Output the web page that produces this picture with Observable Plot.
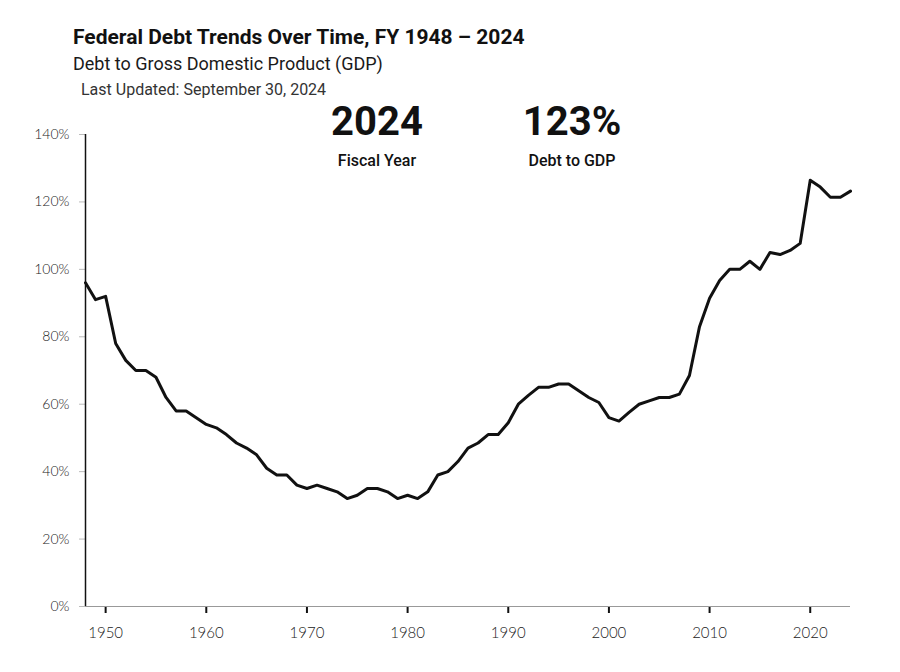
<!DOCTYPE html>
<html><head><meta charset="utf-8">
<script src="https://cdn.jsdelivr.net/npm/d3@7"></script>
<script src="https://cdn.jsdelivr.net/npm/@observablehq/plot@0.6"></script>
<style>
body{margin:0;background:#fff;}
#wrap{position:relative;width:900px;height:672px;overflow:hidden;background:#fff;}
.t{position:absolute;white-space:nowrap;line-height:1;font-family:Roboto,"Open Sans",sans-serif;}
.c{transform:translateX(-50%);}
</style></head><body>
<div id="wrap">
  <div class="t" id="title" style="left:73px;top:27px;font-size:21px;font-weight:700;color:#111;"></div>
  <div class="t" id="subtitle" style="left:73px;top:55px;font-size:18px;font-weight:400;color:#1a1a1a;"></div>
  <div class="t" id="updated" style="left:81px;top:82px;font-size:16px;font-weight:400;color:#333;"></div>
  <div class="t c" id="bigYear" style="left:377px;top:102px;font-size:40px;font-weight:700;color:#111;"></div>
  <div class="t c" id="bigYearLbl" style="left:377px;top:153px;font-size:16px;font-weight:500;color:#111;"></div>
  <div class="t c" id="bigVal" style="left:572px;top:102px;font-size:40px;font-weight:700;color:#111;"></div>
  <div class="t c" id="bigValLbl" style="left:572px;top:153px;font-size:16px;font-weight:500;color:#111;"></div>
  <div id="chart" style="position:absolute;left:0;top:100px;"></div>
</div>
<script>
// ---- data ----
const titleText = "Federal Debt Trends Over Time, FY 1948 – 2024";
const subtitleText = "Debt to Gross Domestic Product (GDP)";
const updatedText = "Last Updated: September 30, 2024";
const yearLabel = "Fiscal Year";
const valueLabel = "Debt to GDP";

const years = [
  1948,1949,1950,1951,1952,1953,1954,1955,1956,1957,1958,1959,
  1960,1961,1962,1963,1964,1965,1966,1967,1968,1969,
  1970,1971,1972,1973,1974,1975,1976,1977,1978,1979,
  1980,1981,1982,1983,1984,1985,1986,1987,1988,1989,
  1990,1991,1992,1993,1994,1995,1996,1997,1998,1999,
  2000,2001,2002,2003,2004,2005,2006,2007,2008,2009,
  2010,2011,2012,2013,2014,2015,2016,2017,2018,2019,
  2020,2021,2022,2023,2024
];
const debtToGdp = [
  96,91,92,78,73,70,70,68,62,58,58,56,
  54,53,51,48.5,47,45,41,39,39,36,
  35,36,35,34,32,33,35,35,34,32,
  33,32,34,39,40,43,47,48.5,51,51,
  54.5,60,62.6,65,65,66,66,64,62,60.5,
  56,55,57.6,60,61,62,62,63,68.5,83,
  91.4,96.7,100,100,102.4,100,105,104.4,105.6,107.7,
  126.4,124.4,121.4,121.4,123.2
];
const xTicks = [1950,1960,1970,1980,1990,2000,2010,2020];
const yTicks = [0,20,40,60,80,100,120,140];

const data = years.map((y,i)=>({year:y, value:debtToGdp[i]}));

document.getElementById("title").textContent = titleText;
document.getElementById("subtitle").textContent = subtitleText;
document.getElementById("updated").textContent = updatedText;
document.getElementById("bigYear").textContent = String(years[years.length-1]);
document.getElementById("bigYearLbl").textContent = yearLabel;
document.getElementById("bigVal").textContent = Math.round(debtToGdp[debtToGdp.length-1]) + "%";
document.getElementById("bigValLbl").textContent = valueLabel;

const chart = Plot.plot({
  width: 900,
  height: 572,
  marginTop: 34,
  marginBottom: 66,
  marginLeft: 85,
  marginRight: 50,
  style: {fontFamily: "Lato, sans-serif", fontWeight: 300, background: "transparent"},
  x: {domain: [years[0], years[years.length-1]]},
  y: {domain: [0, 140]},
  marks: [
    Plot.axisY(yTicks, {tickSize: 6, tickPadding: 10, stroke: "#bbb", fill: "#222",
      fontSize: 14, tickFormat: d => d + "%", label: null}),
    Plot.axisX(xTicks, {tickSize: 7, tickPadding: 14, stroke: "#111", strokeWidth: 2,
      fill: "#222", fontSize: 15, tickFormat: d => String(d), label: null}),
    Plot.ruleY([0], {stroke: "#999", strokeWidth: 1}),
    Plot.ruleX([years[0]], {y1: 0, y2: 140, stroke: "#111", strokeWidth: 1.5}),
    Plot.line(data, {x: "year", y: "value", stroke: "#111", strokeWidth: 3,
      strokeLinejoin: "round", strokeLinecap: "round"})
  ]
});
document.getElementById("chart").appendChild(chart);
</script>
</body></html>
